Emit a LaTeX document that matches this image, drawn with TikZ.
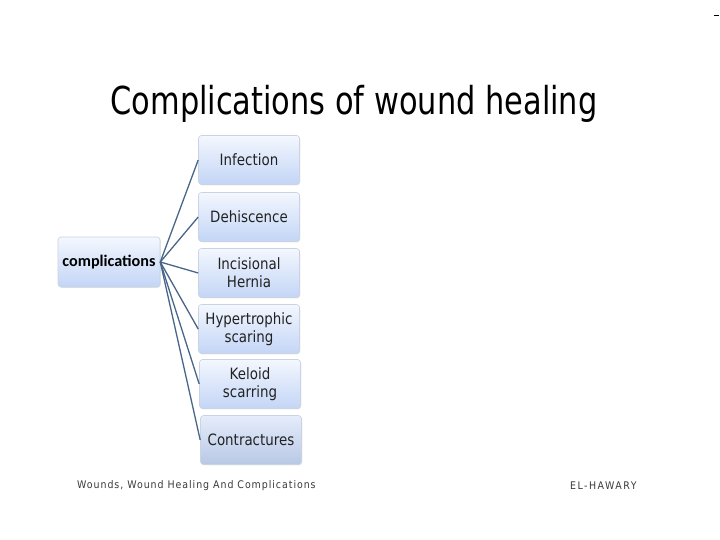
\documentclass[tikz,border=0pt]{standalone}
\usepackage{fontspec}
\usetikzlibrary{shadows}
\setmainfont{DejaVu Sans}
\newfontfamily\condfont[FakeStretch=0.79]{DejaVu Sans}
\newfontfamily\boxfont[FakeStretch=0.86]{DejaVu Sans}
\newfontfamily\footfont[FakeStretch=0.9,LetterSpace=9]{DejaVu Sans}
\newfontfamily\authfont[FakeStretch=0.9,LetterSpace=14]{DejaVu Sans}
\newfontfamily\calfont{Carlito}
\definecolor{linkblue}{HTML}{48668A}
\definecolor{boxtop}{HTML}{F4F7FE}
\definecolor{boxbot}{HTML}{C3D5F6}
\definecolor{boxedge}{HTML}{C9D3E3}
\definecolor{boxbotdark}{HTML}{B8C8E4}
\definecolor{foottext}{HTML}{3A3A3A}
\definecolor{boxtext}{HTML}{222222}
\begin{document}
\begin{tikzpicture}[x=1pt,y=-1pt,
  itembox/.style={draw=boxedge,line width=0.6pt,rounded corners=3pt,
    top color=boxtop,bottom color=boxbot,minimum width=101pt,minimum height=49pt,
    align=center,text=boxtext,font=\boxfont\fontsize{15.6}{18}\selectfont,inner sep=1pt,
    drop shadow={shadow xshift=0.8pt,shadow yshift=-0.8pt,opacity=0.18}},
  link/.style={draw=linkblue,line width=1.3pt}]
\useasboundingbox (0,0) rectangle (720,540);
\fill[white] (0,0) rectangle (720,540);
\node (title) at (354,104) {\condfont\fontsize{38.5}{42}\selectfont Complications of wound healing};
\node[itembox,text=black,font=\calfont\bfseries\fontsize{16.2}{18}\selectfont,minimum width=102pt,minimum height=50pt] (root) at (109,262) {complications};
\node[itembox] (c1) at (249,160) {Infection};
\node[itembox] (c2) at (249,217) {Dehiscence};
\node[itembox] (c3) at (249,273) {Incisional\\Hernia};
\node[itembox] (c4) at (249,329) {Hypertrophic\\scaring};
\node[itembox] (c5) at (250,384) {Keloid\\scarring};
\node[itembox,top color=boxtop!70!boxbot,bottom color=boxbotdark] (c6) at (251,440) {Contractures};
\foreach \c in {c1,c2,c3,c4,c5,c6}{
  \draw[link] (root.east) -- (\c.west);
}
\node[anchor=west,text=foottext,inner sep=0pt] (foot) at (77,486) {\footfont\fontsize{10.5}{12}\selectfont Wounds, Wound Healing And Complications};
\node[anchor=west,text=foottext,inner sep=0pt] (author) at (570,486) {\authfont\fontsize{10.5}{12}\selectfont EL-HAWARY};
\coordinate (d1) at (714,15);
\coordinate (d2) at (719,15);
\draw[black,line width=0.7pt] (d1) -- (d2);
\end{tikzpicture}
\end{document}
